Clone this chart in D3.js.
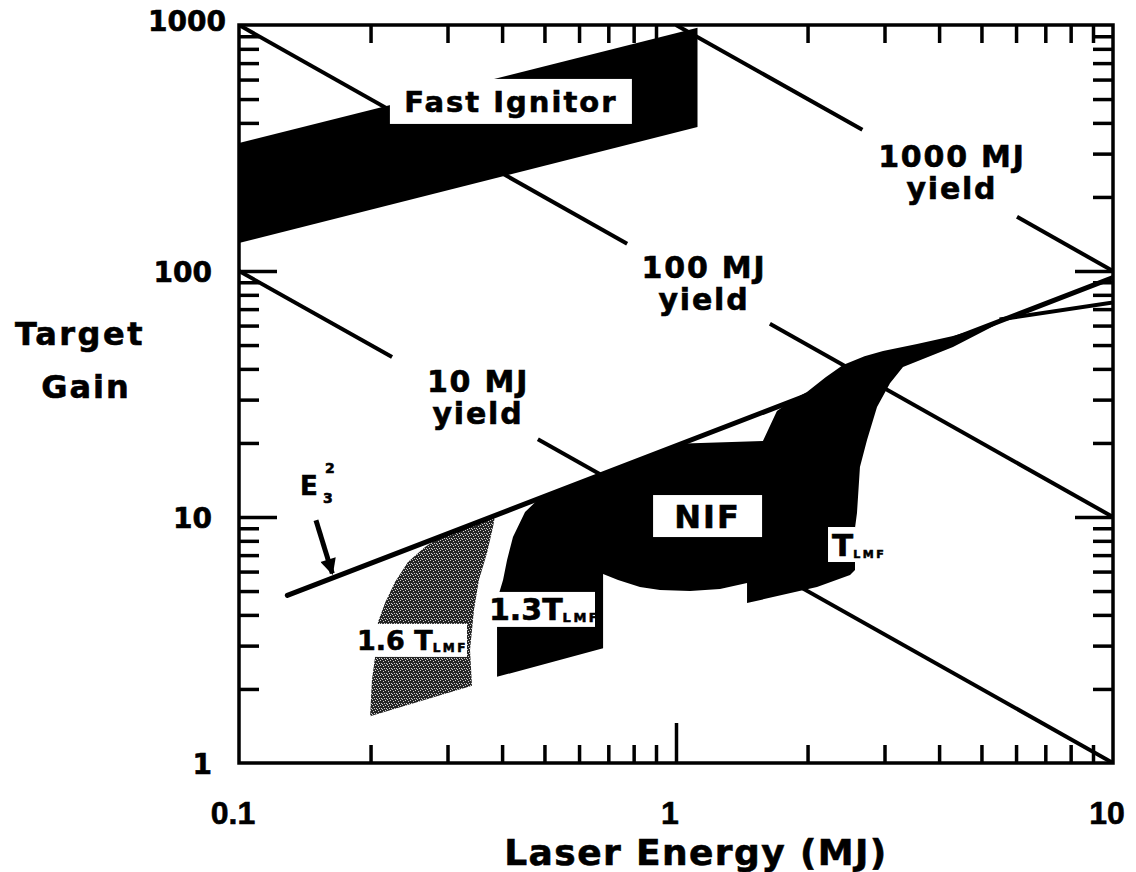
<!DOCTYPE html>
<html>
<head>
<meta charset="utf-8">
<script src="https://cdn.jsdelivr.net/npm/d3@7"></script>
<style>
  body { margin: 0; background: #fff; }
  svg { display: block; }
  text { font-family: "DejaVu Sans", sans-serif; font-weight: bold; fill: #000; stroke: #000; stroke-width: 0.6px; }
</style>
</head>
<body>
<svg id="chart" width="1136" height="872"></svg>
<script>
// target gain vs laser energy, both log
var xTicks = [0.1, 1, 10];
var xTickLabels = ["0.1", "1", "10"];
var yTicks = [1, 10, 100, 1000];
var yTickLabels = ["1", "10", "100", "1000"];

// constant-yield lines [E, G], broken where the labels sit
var yield10 = [[[0.1, 100], [0.224, 44.7]], [[0.483, 20.7], [10, 1]]];
var yield100 = [[[0.1, 1000], [0.773, 129]], [[1.64, 61], [10, 10]]];
var yield1000 = [[[1, 1000], [2.67, 375]], [[6.03, 166], [10, 100]]];

// E3^2 scaling line and the lower branch at the right
var e2Line = [[0.129, 4.8], [10, 94]];
var tailLine = [[5.5, 63.5], [10, 74.5]];

var fastIgnitor = [[0.1, 130], [1.12, 385], [1.12, 975], [0.1, 331]];

var region16 = [[0.1995, 1.55], [0.2015, 2.18], [0.2058, 2.88], [0.208, 3.74], [0.2158, 4.47],
  [0.2275, 5.44], [0.2435, 6.56], [0.2665, 7.55], [0.2884, 8.29], [0.3853, 10.09],
  [0.3813, 9.11], [0.3694, 7.14], [0.354, 5.55], [0.3449, 4.19], [0.3378, 2.88], [0.3413, 2.06]];

var regionNif = [[0.3895, 2.24], [0.3895, 4.6], [0.402, 5.55], [0.4106, 6.69], [0.4236, 8.29],
  [0.4514, 10.47], [0.4885, 12.0], [1.049, 19.9], [1.581, 20.37], [1.702, 26.97], [1.85, 30.0],
  [1.994, 32.2], [2.2, 37.0], [2.411, 41.5], [2.7, 45.0], [2.977, 47.3], [3.561, 50.5], [4.304, 54.4],
  [5.6, 62.5], [4.304, 49.1], [3.307, 40.7], [3.088, 35.0], [2.884, 28.0], [2.736, 20.56],
  [2.636, 15.97], [2.595, 10.38], [2.568, 9.02], [2.568, 6.09], [2.502, 5.81], [2.102, 5.19],
  [1.454, 4.47], [1.454, 5.39], [1.261, 5.1], [1.077, 5.0], [0.919, 5.05], [0.827, 5.19],
  [0.737, 5.55], [0.681, 5.86], [0.681, 2.93]];

var e2Arrow = [[0.150, 9.7], [0.1635, 5.9]];

var svg = d3.select("#chart");
var plotL = 239, plotR = 1113, plotT = 25, plotB = 763;

var x = d3.scaleLog().domain([0.1, 10]).range([plotL, plotR]);
var y = d3.scaleLog().domain([1, 1000]).range([plotB, plotT]);

var line = d3.line().x(function(d) { return x(d[0]); }).y(function(d) { return y(d[1]); });
var area = d3.line().x(function(d) { return x(d[0]); }).y(function(d) { return y(d[1]); })
  .curve(d3.curveLinearClosed);

var defs = svg.append("defs");
defs.append("clipPath").attr("id", "plot")
  .append("rect").attr("x", plotL).attr("y", plotT).attr("width", plotR - plotL).attr("height", plotB - plotT);

// grainy grey for the 1.6 T_LMF band
var pat = defs.append("pattern").attr("id", "stipple")
  .attr("width", 5).attr("height", 5).attr("patternUnits", "userSpaceOnUse");
pat.append("rect").attr("width", 5).attr("height", 5).attr("fill", "#262626");
[[0, 0], [3, 1], [1, 3], [4, 3], [2, 4]].forEach(function(p) {
  pat.append("rect").attr("x", p[0]).attr("y", p[1]).attr("width", 1).attr("height", 1).attr("fill", "#cfcfcf");
});

defs.append("marker").attr("id", "head")
  .attr("viewBox", "0 0 10 10").attr("refX", 9).attr("refY", 5)
  .attr("markerWidth", 24).attr("markerHeight", 16).attr("markerUnits", "userSpaceOnUse")
  .attr("orient", "auto")
  .append("path").attr("d", "M0,0 L10,5 L0,10 z").attr("fill", "#000");

var plot = svg.append("g").attr("clip-path", "url(#plot)");

plot.append("path").attr("d", area(fastIgnitor)).attr("fill", "#000");
plot.append("path").attr("d", area(region16)).attr("fill", "url(#stipple)");
plot.append("path").attr("d", area(regionNif)).attr("fill", "#000");

[yield10, yield100, yield1000].forEach(function(segs) {
  segs.forEach(function(s) {
    plot.append("path").attr("d", line(s)).attr("fill", "none")
      .attr("stroke", "#000").attr("stroke-width", 4);
  });
});

plot.append("path").attr("d", line(e2Line)).attr("fill", "none")
  .attr("stroke", "#000").attr("stroke-width", 5).attr("stroke-linecap", "round");
plot.append("path").attr("d", line(tailLine)).attr("fill", "none")
  .attr("stroke", "#000").attr("stroke-width", 4);

plot.append("path").attr("d", line(e2Arrow)).attr("fill", "none")
  .attr("stroke", "#000").attr("stroke-width", 5).attr("marker-end", "url(#head)");

// axes: inward ticks on all four sides
var minorX = x.ticks().filter(function(v) { return xTicks.indexOf(v) < 0; });
var minorY = y.ticks().filter(function(v) { return yTicks.indexOf(v) < 0; });
var majorX = [1], majorY = [10, 100];

function ticks(axis, pos, vals, len) {
  var g = svg.append("g").attr("transform", pos)
    .call(axis.tickValues(vals).tickSize(-len).tickFormat(""));
  g.select(".domain").remove();
  g.selectAll("line").attr("stroke", "#000").attr("stroke-width", 3.5);
}
ticks(d3.axisBottom(x), "translate(0," + plotB + ")", minorX, 18);
ticks(d3.axisBottom(x), "translate(0," + plotB + ")", majorX, 40);
ticks(d3.axisTop(x), "translate(0," + plotT + ")", minorX, 18);
ticks(d3.axisLeft(y), "translate(" + plotL + ",0)", minorY, 20);
ticks(d3.axisLeft(y), "translate(" + plotL + ",0)", majorY, 38);
ticks(d3.axisRight(y), "translate(" + plotR + ",0)", minorY, 20);
ticks(d3.axisRight(y), "translate(" + plotR + ",0)", majorY, 38);

svg.append("rect").attr("x", plotL).attr("y", plotT)
  .attr("width", plotR - plotL).attr("height", plotB - plotT)
  .attr("fill", "none").attr("stroke", "#000").attr("stroke-width", 3.5);

// tick labels
svg.selectAll(".xlab").data(xTicks).enter().append("text")
  .attr("x", function(d) { return x(d) - 6; }).attr("y", 824)
  .attr("text-anchor", "middle")
  .style("font-family", "'Liberation Sans', Arial, sans-serif").style("font-size", "32px")
  .text(function(d, i) { return xTickLabels[i]; });

svg.selectAll(".ylab").data(yTicks).enter().append("text")
  .attr("x", function(d) { return d === 1000 ? 226 : 212; })
  .attr("y", function(d) { return d === 1000 ? 31 : y(d) + 11; })
  .attr("text-anchor", "end").style("font-size", "28px")
  .text(function(d, i) { return yTickLabels[i]; });

// axis titles
svg.append("text").attr("x", 696).attr("y", 865).attr("text-anchor", "middle")
  .style("font-size", "36px").style("letter-spacing", "1.4px").text("Laser Energy (MJ)");
svg.append("text").attr("x", 80).attr("y", 345).attr("text-anchor", "middle")
  .style("font-size", "32px").style("letter-spacing", "2.5px").text("Target");
svg.append("text").attr("x", 86).attr("y", 398).attr("text-anchor", "middle")
  .style("font-size", "32px").style("letter-spacing", "2px").text("Gain");

// yield labels
[[["10 MJ", "yield"], [0.3523, 32.2]], [["100 MJ", "yield"], [1.159, 93.7]], [["1000 MJ", "yield"], [4.28, 265]]]
  .forEach(function(l) {
    var t = svg.append("text").attr("text-anchor", "middle")
      .style("font-size", "30px").style("letter-spacing", "1.8px");
    l[0].forEach(function(s, i) {
      t.append("tspan").attr("x", x(l[1][0])).attr("y", y(l[1][1]) + i * 32).text(s);
    });
  });

// boxed labels
function boxed(at, w, h, txt, size, dy) {
  var cx = x(at[0]), cy = y(at[1]);
  svg.append("rect").attr("x", cx - w / 2).attr("y", cy - h / 2)
    .attr("width", w).attr("height", h).attr("fill", "#fff");
  svg.append("text").attr("x", cx).attr("y", cy + dy).attr("text-anchor", "middle")
    .style("font-size", size + "px").style("letter-spacing", "2px").text(txt);
}
boxed([0.419, 489], 242, 45, "Fast Ignitor", 29, 11);
boxed([1.181, 10.09], 109, 42, "NIF", 32, 12);

// T_LMF labels
function tlmf(at, w, h, lead, size, sub, dx) {
  var cx = x(at[0]), cy = y(at[1]);
  svg.append("rect").attr("x", cx - w / 2).attr("y", cy - h / 2)
    .attr("width", w).attr("height", h).attr("fill", "#fff");
  var t = svg.append("text").attr("x", cx - w / 2 + dx).attr("y", cy + size * 0.36)
    .style("font-size", size + "px");
  t.append("tspan").text(lead);
  t.append("tspan").attr("dy", 2).style("font-size", sub + "px").style("letter-spacing", "2.5px").text("LMF");
}
tlmf([0.491, 4.21], 108, 35, "1.3T", 30, 13, 2);
tlmf([0.2475, 3.15], 112, 33, "1.6 T", 27, 12, 2);
tlmf([2.392, 7.73], 27, 35, "T", 31, 11, 4);

// E3^2
var ex = x(0.1379), ey = y(12.29);
svg.append("text").attr("x", ex).attr("y", ey).style("font-size", "26px").text("E");
svg.append("text").attr("x", ex + 25).attr("y", ey - 22).style("font-size", "14px").text("2");
svg.append("text").attr("x", ex + 23).attr("y", ey + 8).style("font-size", "14px").text("3");
</script>
</body>
</html>
